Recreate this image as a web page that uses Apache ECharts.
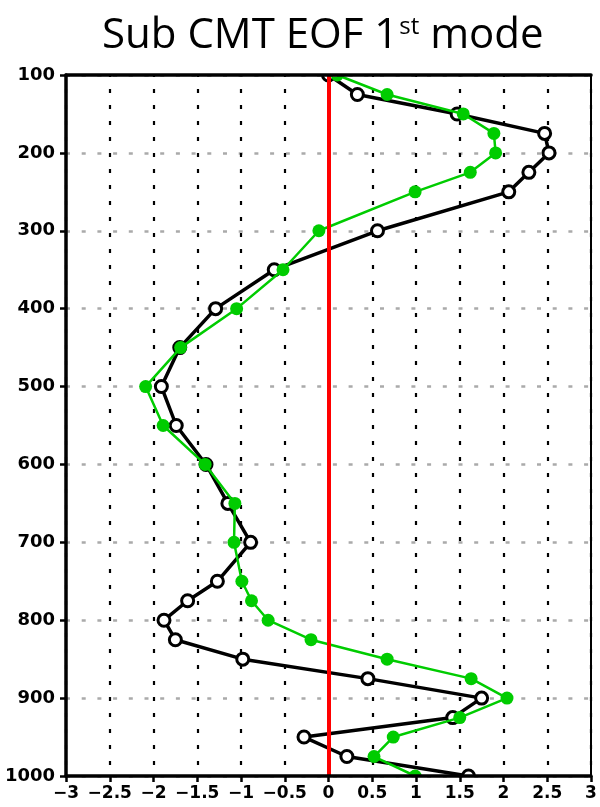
<!DOCTYPE html>
<html>
<head>
<meta charset="utf-8">
<script src="https://cdn.jsdelivr.net/npm/echarts@6/dist/echarts.min.js"></script>
<style>
  html, body { margin: 0; padding: 0; background: #fff; }
  #chart { width: 600px; height: 807px; }
</style>
</head>
<body>
<div id="chart"></div>
<script>
// Pressure levels (hPa), top of profile first
var levels = [100, 125, 150, 175, 200, 225, 250, 300, 350, 400, 450, 500, 550, 600,
              650, 700, 750, 775, 800, 825, 850, 875, 900, 925, 950, 975, 1000];

// EOF loading, black profile (open circles)
var blackProfile = [0.0, 0.33, 1.47, 2.47, 2.52, 2.29, 2.06, 0.56, -0.62, -1.29, -1.70, -1.91, -1.74, -1.40,
                    -1.15, -0.89, -1.27, -1.61, -1.88, -1.75, -0.98, 0.45, 1.75, 1.42, -0.28, 0.21, 1.60];

// EOF loading, green profile (filled circles)
var greenProfile = [0.10, 0.67, 1.54, 1.89, 1.91, 1.62, 0.99, -0.11, -0.52, -1.05, -1.69, -2.09, -1.89, -1.41,
                    -1.07, -1.08, -0.99, -0.88, -0.69, -0.20, 0.67, 1.63, 2.04, 1.50, 0.74, 0.52, 0.99];

// Axis ranges and tick steps
var xMin = -3, xMax = 3, xStep = 0.5;
var pTop = 100, pBottom = 1000, pStep = 100;

function pairs(vals) {
  return vals.map(function (v, i) { return [v, levels[i]]; });
}

var W = 600, H = 807;
var gridBox = { left: 66, right: 9, top: 75, bottom: 31 };

var chart = echarts.init(document.getElementById('chart'), null, { renderer: 'canvas' });

var tickFont = { fontFamily: 'DejaVu Sans', fontWeight: 'bold', color: '#000' };
var gridDots = { color: '#aaa', width: 2.5, type: [4, 11.7] };
var frameLine = { color: '#000', width: 3.5 };
var hidden = { show: false };

// x: one axis for the dotted grid (under the data), one for frame/ticks/labels (over the masks)
function xAxisDef(extra) {
  return Object.assign({ type: 'value', min: xMin, max: xMax, interval: xStep,
    axisLine: hidden, axisTick: hidden, axisLabel: hidden, splitLine: hidden }, extra);
}
function yAxisDef(extra) {
  return Object.assign({ type: 'value', inverse: true, min: pTop, max: pBottom, interval: pStep,
    axisLine: hidden, axisTick: hidden, axisLabel: hidden, splitLine: hidden }, extra);
}

chart.setOption({
  animation: false,
  backgroundColor: '#fff',
  title: {
    text: '{a|Sub CMT EOF 1}{s|st}{a| mode}',
    left: 97,
    top: 10,
    z: 20,
    textStyle: {
      rich: {
        a: { fontFamily: 'Open Sans', fontSize: 42, color: '#000', fontWeight: 'normal' },
        s: { fontFamily: 'Open Sans', fontSize: 24, color: '#000', fontWeight: 'normal', padding: [0, 0, 18, 1] }
      }
    }
  },
  // white bands outside the plot frame so markers on the top/bottom levels are cut at the frame
  graphic: [
    { type: 'rect', silent: true, z: 5,
      shape: { x: 0, y: 0, width: W, height: gridBox.top },
      style: { fill: '#fff' } },
    { type: 'rect', silent: true, z: 5,
      shape: { x: 0, y: H - gridBox.bottom, width: W, height: gridBox.bottom },
      style: { fill: '#fff' } }
  ],
  grid: { left: gridBox.left, right: gridBox.right, top: gridBox.top, bottom: gridBox.bottom },
  xAxis: [
    xAxisDef({
      position: 'bottom', z: 0,
      splitLine: { show: true, lineStyle: { color: '#000', width: 2.2, type: [4, 12], dashOffset: 2 } }
    }),
    xAxisDef({
      position: 'bottom', z: 10,
      axisLine: { show: true, onZero: false, lineStyle: frameLine },
      axisTick: { show: true, length: 6, lineStyle: { color: '#000', width: 2.5 } },
      axisLabel: Object.assign({
        show: true, fontSize: 17, margin: 9,
        formatter: function (v) { return (v < 0 ? '\u2212' : '') + Math.abs(v); }
      }, tickFont)
    }),
    xAxisDef({
      position: 'top', z: 10,
      axisLine: { show: true, onZero: false, lineStyle: frameLine }
    })
  ],
  yAxis: [
    yAxisDef({
      position: 'left', z: 0,
      splitLine: { show: true, lineStyle: gridDots }
    }),
    yAxisDef({
      position: 'left', z: 10,
      axisLine: { show: true, onZero: false, lineStyle: frameLine },
      axisTick: { show: true, length: 6, lineStyle: { color: '#000', width: 2.5 } },
      axisLabel: Object.assign({
        show: true, fontSize: 18, margin: 11,
        formatter: function (v) { return String(v); }
      }, tickFont)
    }),
    yAxisDef({
      position: 'right', z: 10,
      axisLine: { show: true, onZero: false, lineStyle: { color: '#000', width: 2 } }
    })
  ],
  series: [
    {
      name: 'black',
      type: 'line',
      data: pairs(blackProfile),
      z: 3,
      lineStyle: { color: '#000', width: 3.5 },
      symbol: 'circle',
      symbolSize: 12,
      itemStyle: { color: '#fff', borderColor: '#000', borderWidth: 3 },
      markLine: {
        silent: true,
        symbol: 'none',
        label: { show: false },
        data: [
          { xAxis: 0, lineStyle: { color: '#ff0000', width: 4, type: 'solid' } }
        ]
      }
    },
    {
      name: 'green',
      type: 'line',
      data: pairs(greenProfile),
      z: 4,
      lineStyle: { color: '#00cc00', width: 2.5 },
      symbol: 'circle',
      symbolSize: 13,
      itemStyle: { color: '#00cc00', borderWidth: 0 }
    },
    {
      // gray dotted level lines drawn over the top and bottom frame
      name: 'frame levels',
      type: 'line',
      data: [],
      z: 15,
      markLine: {
        silent: true,
        symbol: 'none',
        label: { show: false },
        lineStyle: gridDots,
        data: [ { yAxis: pTop }, { yAxis: pBottom } ]
      }
    }
  ]
});
</script>
</body>
</html>
